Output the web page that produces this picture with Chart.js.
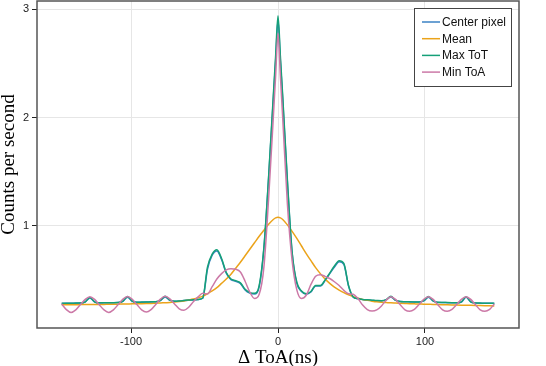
<!DOCTYPE html>
<html><head><meta charset="utf-8">
<script src="https://cdn.jsdelivr.net/npm/chart.js@4/dist/chart.umd.min.js"></script>
<style>html,body{margin:0;padding:0;background:#fff}#wrap{width:546px;height:366px}</style>
</head><body><div id="wrap"><canvas id="c" width="546" height="366"></canvas></div>
<script>
const deltaToA = [-147.2,-144,-140.8,-137.6,-134.4,-131.2,-128,-124.8,-121.6,-118.4,
-115.2,-112,-108.8,-105.6,-102.4,-99.2,-96,-92.8,-89.6,-86.4,
-83.2,-80,-76.8,-73.6,-70.4,-67.2,-64,-60.8,-57.6,-54.4,
-51.2,-48,-44.8,-41.6,-38.4,-35.2,-32,-28.8,-25.6,-22.4,
-19.2,-16,-12.8,-9.6,-6.4,-3.2,-1.6,0,1.6,
3.2,6.4,9.6,12.8,16,19.2,22.4,25.6,28.8,32,
35.2,38.4,41.6,44.8,48,51.2,54.4,57.6,60.8,64,
67.2,70.4,73.6,76.8,80,83.2,86.4,89.6,92.8,96,
99.2,102.4,105.6,108.8,112,115.2,118.4,121.6,124.8,128,
131.2,134.4,137.6,140.8,144,147.2];

const centerPixel = [0.285,0.286,0.287,0.287,0.288,0.298,0.335,0.298,0.289,0.29,
0.291,0.292,0.293,0.303,0.343,0.305,0.295,0.296,0.297,0.299,
0.30,0.311,0.345,0.313,0.305,0.307,0.311,0.315,0.317,0.321,
0.333,0.60,0.73,0.77,0.69,0.565,0.505,0.49,0.47,0.41,
0.38,0.372,0.44,0.79,1.44,2.17,2.53,2.9,2.53,
2.17,1.4,0.75,0.47,0.395,0.37,0.39,0.445,0.445,0.495,
0.56,0.62,0.67,0.645,0.445,0.342,0.328,0.32,0.316,0.313,
0.31,0.308,0.318,0.345,0.313,0.302,0.3,0.299,0.298,0.297,
0.308,0.343,0.306,0.294,0.293,0.292,0.291,0.29,0.298,0.342,
0.298,0.288,0.287,0.286,0.286,0.285];

const meanToA = [0.272,0.272,0.273,0.273,0.274,0.274,0.275,0.275,0.276,0.276,
0.277,0.277,0.278,0.279,0.28,0.281,0.282,0.283,0.284,0.285,
0.287,0.289,0.291,0.293,0.297,0.302,0.308,0.316,0.325,0.337,
0.352,0.375,0.40,0.43,0.47,0.51,0.555,0.61,0.665,0.725,
0.785,0.845,0.905,0.96,1.015,1.06,1.075,1.08,1.075,
1.06,1.01,0.95,0.885,0.815,0.745,0.68,0.615,0.56,0.51,
0.47,0.435,0.408,0.385,0.365,0.348,0.333,0.322,0.313,0.306,
0.30,0.296,0.293,0.29,0.288,0.286,0.284,0.282,0.281,0.28,
0.278,0.277,0.276,0.274,0.273,0.272,0.271,0.27,0.269,0.268,
0.267,0.266,0.265,0.264,0.263,0.262];

const maxToT = [0.286,0.287,0.287,0.288,0.288,0.30,0.34,0.30,0.29,0.291,
0.292,0.292,0.293,0.305,0.348,0.307,0.296,0.297,0.298,0.30,
0.301,0.313,0.35,0.315,0.306,0.308,0.312,0.316,0.318,0.322,
0.335,0.62,0.74,0.78,0.70,0.57,0.51,0.495,0.475,0.415,
0.385,0.378,0.45,0.80,1.45,2.2,2.57,2.94,2.57,
2.2,1.42,0.76,0.48,0.40,0.375,0.395,0.45,0.45,0.50,
0.565,0.63,0.68,0.655,0.45,0.345,0.33,0.322,0.318,0.315,
0.312,0.31,0.32,0.35,0.315,0.303,0.301,0.30,0.299,0.298,
0.31,0.348,0.308,0.295,0.294,0.293,0.292,0.291,0.30,0.347,
0.30,0.289,0.288,0.287,0.287,0.286];

const minToA = [0.28,0.228,0.202,0.225,0.275,0.322,0.347,0.322,0.272,0.225,
0.202,0.226,0.274,0.323,0.348,0.323,0.274,0.226,0.205,0.228,
0.276,0.325,0.35,0.327,0.28,0.235,0.222,0.25,0.30,0.345,
0.378,0.372,0.44,0.51,0.56,0.595,0.605,0.60,0.575,0.49,
0.39,0.33,0.37,0.62,1.25,2.0,2.39,2.78,2.39,
2.0,1.2,0.68,0.41,0.33,0.36,0.46,0.535,0.55,0.535,
0.515,0.485,0.45,0.405,0.375,0.37,0.33,0.27,0.228,0.215,
0.225,0.262,0.315,0.347,0.322,0.272,0.226,0.212,0.23,0.275,
0.323,0.347,0.322,0.272,0.226,0.212,0.23,0.275,0.323,0.347,
0.322,0.272,0.226,0.212,0.23,0.28];

const seriesNames = ['Center pixel', 'Mean', 'Max ToT', 'Min ToA'];
const seriesColors = ['#3B82C4', '#EBA31A', '#15A078', '#CC79A7'];
const xTicks = [-100, 0, 100];
const xTickLabels = ['-100', '0', '100'];
const yTicks = [1, 2, 3];
const yTickLabels = ['1', '2', '3'];

const seriesValues = [centerPixel, meanToA, maxToT, minToA];
const datasets = seriesValues.map((vals, k) => ({
  label: seriesNames[k],
  data: deltaToA.map((x, i) => ({x: x, y: vals[i]})),
  borderColor: seriesColors[k],
  backgroundColor: seriesColors[k],
  borderWidth: 1.5,
  pointRadius: 0,
  cubicInterpolationMode: 'monotone',
  fill: false,
  order: seriesValues.length - k
}));

const framePlugin = {
  id: 'frame',
  afterDraw(chart) {
    const {ctx, chartArea: a} = chart;
    ctx.save();
    ctx.strokeStyle = '#555';
    ctx.lineWidth = 1.5;
    ctx.strokeRect(a.left, a.top, a.right - a.left, a.bottom - a.top);
    const bw = 97, bh = 78;
    const bx = a.right - 8 - bw, by = a.top + 7;
    ctx.fillStyle = '#fff';
    ctx.fillRect(bx, by, bw, bh);
    ctx.strokeStyle = '#444';
    ctx.lineWidth = 1;
    ctx.strokeRect(bx + 0.5, by + 0.5, bw, bh);
    ctx.font = '12px "Liberation Sans", Arial, sans-serif';
    ctx.textBaseline = 'middle';
    ctx.textAlign = 'left';
    seriesNames.forEach((name, k) => {
      const yy = by + 14 + k * 16.7;
      ctx.strokeStyle = seriesColors[k];
      ctx.lineWidth = 1.5;
      ctx.beginPath();
      ctx.moveTo(bx + 8, yy);
      ctx.lineTo(bx + 26, yy);
      ctx.stroke();
      ctx.fillStyle = '#111';
      ctx.fillText(name, bx + 28, yy + 0.5);
    });
    ctx.restore();
  }
};

new Chart(document.getElementById('c'), {
  type: 'line',
  data: {datasets: datasets},
  options: {
    responsive: false,
    animation: false,
    devicePixelRatio: 1,
    layout: {padding: {top: 1, right: 27, left: 0, bottom: 0}},
    plugins: {legend: {display: false}, tooltip: {enabled: false}},
    scales: {
      x: {
        type: 'linear',
        min: -164, max: 164,
        afterBuildTicks: s => { s.ticks = xTicks.map(v => ({value: v})); },
        afterFit: s => { s.height = 38; s.paddingLeft = 0; s.paddingRight = 0; },
        grid: {color: '#e6e6e6', lineWidth: 1, tickColor: '#222', tickLength: 5, drawTicks: true},
        border: {display: false},
        ticks: {
          font: {family: 'Liberation Sans', size: 11}, color: '#222', padding: 2,
          maxRotation: 0, autoSkip: false,
          callback: (v) => xTickLabels[xTicks.indexOf(v)]
        },
        title: {display: true, text: 'Δ ToA(ns)', color: '#000',
          font: {family: 'Liberation Serif', size: 19, lineHeight: 0.8}, padding: {top: 0, bottom: 0}}
      },
      y: {
        type: 'linear',
        min: 0.058, max: 3.077,
        afterBuildTicks: s => { s.ticks = yTicks.map(v => ({value: v})); },
        afterFit: s => { s.width = 37; s.paddingTop = 0; s.paddingBottom = 0; },
        grid: {color: '#e6e6e6', lineWidth: 1, tickColor: '#222', tickLength: 5, drawTicks: true},
        border: {display: false},
        ticks: {
          font: {family: 'Liberation Sans', size: 11}, color: '#222', padding: 3,
          autoSkip: false,
          callback: (v) => yTickLabels[yTicks.indexOf(v)]
        },
        title: {display: true, text: 'Counts per second', color: '#000',
          font: {family: 'Liberation Serif', size: 19, lineHeight: 1}, padding: {top: 0, bottom: 0}}
      }
    }
  },
  plugins: [framePlugin]
});
</script>
</body></html>
